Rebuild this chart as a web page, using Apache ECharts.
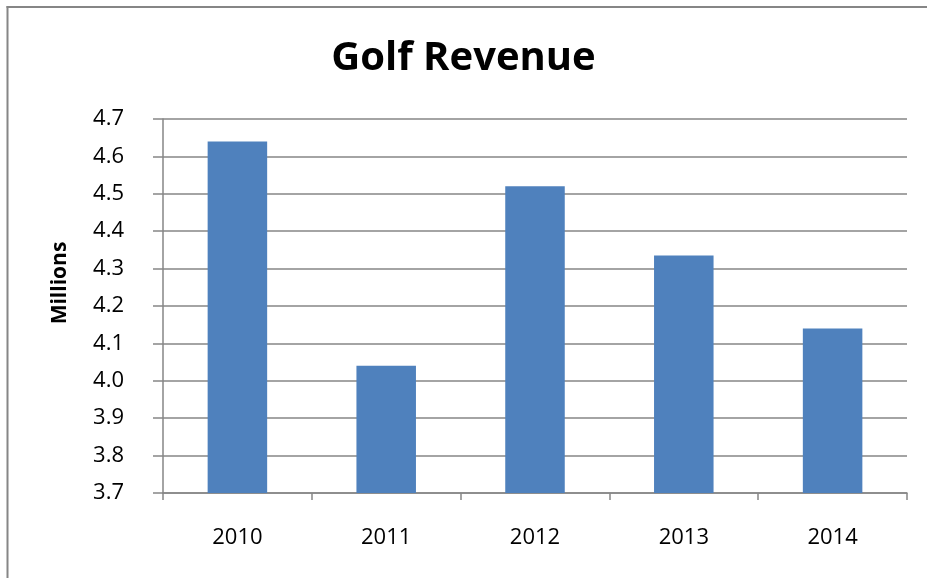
<!DOCTYPE html>
<html><head><meta charset="utf-8">
<script src="https://cdn.jsdelivr.net/npm/echarts@6/dist/echarts.min.js"></script>
<style>html,body{margin:0;padding:0;background:#fff}#c{width:927px;height:578px}</style>
</head><body><div id="c"></div>
<script>
const categories = ['2010', '2011', '2012', '2013', '2014'];
const revenue = [4.64, 4.04, 4.52, 4.335, 4.14];
const yTicks = {min: 3.7, max: 4.7, interval: 0.1};
const yAxisTitle = 'Millions';

const chart = echarts.init(document.getElementById('c'), null, {renderer: 'canvas'});
chart.setOption({
  backgroundColor: '#fff',
  animation: false,
  title: {
    text: 'Golf Revenue', left: 'center', top: 34, padding: [5, 5, 5, 11],
    textStyle: {fontFamily: 'Open Sans', fontWeight: 'bold', fontSize: 40, color: '#000'}
  },
  graphic: [
    {type: 'line', shape: {x1: 6.5, y1: 7, x2: 927, y2: 7},
     style: {stroke: '#868686', lineWidth: 2}, silent: true},
    {type: 'line', shape: {x1: 7.5, y1: 6, x2: 7.5, y2: 578},
     style: {stroke: '#868686', lineWidth: 2}, silent: true},
    {type: 'text', x: 60, y: 283, rotation: Math.PI / 2, silent: true,
     style: {text: yAxisTitle, fill: '#000', font: 'bold 21px "Open Sans"',
       textAlign: 'center', textVerticalAlign: 'middle', align: 'center', verticalAlign: 'middle'}}
  ],
  grid: {left: 163, right: 20, top: 119, bottom: 85},
  xAxis: {
    type: 'category', data: categories,
    axisLine: {lineStyle: {color: '#868686', width: 1.5}},
    axisTick: {show: true, length: 7, lineStyle: {color: '#868686', width: 1.5}},
    axisLabel: {margin: 34, fontSize: 22, color: '#000', fontFamily: 'Open Sans'}
  },
  yAxis: {
    type: 'value', min: yTicks.min, max: yTicks.max, interval: yTicks.interval,
    axisLine: {show: true, lineStyle: {color: '#868686', width: 1.5}},
    axisTick: {show: true, length: 10, lineStyle: {color: '#868686', width: 1.5}},
    splitLine: {show: true, lineStyle: {color: '#868686', width: 1.5}},
    axisLabel: {margin: 39, fontSize: 22, color: '#000', fontFamily: 'Open Sans',
      formatter: v => v.toFixed(1)}
  },
  series: [{
    type: 'bar', data: revenue, barWidth: '40%',
    itemStyle: {color: '#4f81bd'}
  }]
});
</script></body></html>
